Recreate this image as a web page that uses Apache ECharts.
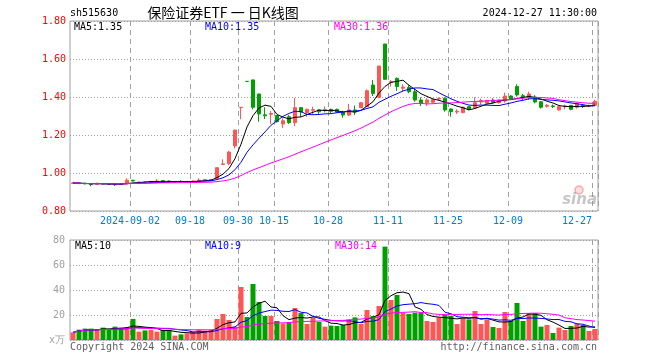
<!DOCTYPE html>
<html><head><meta charset="utf-8">
<script src="https://cdn.jsdelivr.net/npm/echarts@6/dist/echarts.min.js"></script>
<style>html,body{margin:0;padding:0;background:#fff}#c{width:660px;height:360px}</style>
</head><body><div id="c"></div>
<script>
const dates = [
'2024-08-19','2024-08-20','2024-08-21','2024-08-22','2024-08-23','2024-08-26','2024-08-27','2024-08-28','2024-08-29','2024-08-30',
'2024-09-02','2024-09-03','2024-09-04','2024-09-05','2024-09-06','2024-09-09','2024-09-10','2024-09-11','2024-09-12','2024-09-13',
'2024-09-18','2024-09-19','2024-09-20','2024-09-23','2024-09-24','2024-09-25','2024-09-26','2024-09-27','2024-09-30',
'2024-10-08','2024-10-09','2024-10-10','2024-10-11','2024-10-14','2024-10-15','2024-10-16','2024-10-17','2024-10-18',
'2024-10-21','2024-10-22','2024-10-23','2024-10-24','2024-10-25','2024-10-28','2024-10-29','2024-10-30','2024-10-31',
'2024-11-01','2024-11-04','2024-11-05','2024-11-06','2024-11-07','2024-11-08','2024-11-11','2024-11-12','2024-11-13',
'2024-11-14','2024-11-15','2024-11-18','2024-11-19','2024-11-20','2024-11-21','2024-11-22','2024-11-25','2024-11-26',
'2024-11-27','2024-11-28','2024-11-29','2024-12-02','2024-12-03','2024-12-04','2024-12-05','2024-12-06','2024-12-09',
'2024-12-10','2024-12-11','2024-12-12','2024-12-13','2024-12-16','2024-12-17','2024-12-18','2024-12-19','2024-12-20',
'2024-12-23','2024-12-24','2024-12-25','2024-12-26','2024-12-27'];

const open = [0.945,0.948,0.946,0.944,0.940,0.945,0.943,0.942,0.942,0.942,
0.962,0.948,0.952,0.950,0.953,0.960,0.958,0.952,0.956,0.953,
0.955,0.958,0.964,0.963,0.972,1.045,1.049,1.142,1.344,
1.482,1.490,1.416,1.306,1.309,1.302,1.258,1.296,1.265,
1.344,1.318,1.330,1.332,1.328,1.335,1.335,1.318,1.305,
1.332,1.344,1.349,1.463,1.398,1.679,1.476,1.498,1.446,
1.450,1.428,1.384,1.370,1.372,1.389,1.393,1.337,1.321,
1.318,1.349,1.344,1.374,1.367,1.384,1.370,1.379,1.405,
1.455,1.407,1.396,1.400,1.375,1.351,1.353,1.332,1.349,
1.356,1.346,1.355,1.353,1.356];
const close = [0.948,0.944,0.943,0.940,0.946,0.942,0.940,0.938,0.940,0.962,
0.958,0.952,0.950,0.955,0.958,0.955,0.954,0.955,0.954,0.956,
0.958,0.962,0.966,0.966,1.028,1.048,1.110,1.226,1.346,
1.482,1.346,1.311,1.301,1.313,1.270,1.275,1.265,1.344,
1.321,1.335,1.333,1.322,1.334,1.325,1.321,1.305,1.332,
1.321,1.370,1.433,1.419,1.563,1.493,1.480,1.455,1.452,
1.428,1.384,1.367,1.384,1.386,1.392,1.332,1.323,1.325,
1.346,1.335,1.370,1.381,1.381,1.372,1.384,1.405,1.388,
1.411,1.398,1.416,1.374,1.346,1.356,1.350,1.349,1.353,
1.335,1.367,1.350,1.356,1.377];
const high = [0.950,0.950,0.948,0.946,0.948,0.947,0.945,0.944,0.944,0.972,
0.964,0.955,0.954,0.957,0.968,0.962,0.960,0.957,0.962,0.958,
0.960,0.972,0.968,0.968,1.030,1.072,1.117,1.226,1.346,
1.482,1.490,1.416,1.346,1.326,1.305,1.288,1.305,1.395,
1.348,1.339,1.349,1.335,1.350,1.339,1.339,1.328,1.364,
1.355,1.372,1.440,1.489,1.563,1.679,1.489,1.503,1.467,
1.462,1.446,1.398,1.393,1.389,1.398,1.398,1.339,1.335,
1.349,1.352,1.398,1.391,1.386,1.393,1.386,1.423,1.410,
1.467,1.416,1.428,1.410,1.379,1.363,1.360,1.353,1.360,
1.358,1.370,1.362,1.360,1.386];
const low = [0.943,0.942,0.940,0.930,0.938,0.940,0.938,0.932,0.937,0.941,
0.955,0.945,0.947,0.948,0.951,0.953,0.952,0.950,0.948,0.951,
0.953,0.956,0.962,0.961,0.968,1.043,1.042,1.129,1.283,
1.482,1.335,1.270,1.284,1.258,1.265,1.237,1.258,1.247,
1.296,1.296,1.311,1.311,1.318,1.316,1.318,1.291,1.300,
1.305,1.341,1.349,1.405,1.398,1.493,1.455,1.432,1.428,
1.420,1.375,1.353,1.353,1.367,1.384,1.323,1.296,1.311,
1.314,1.330,1.339,1.360,1.363,1.367,1.365,1.370,1.384,
1.402,1.384,1.384,1.367,1.339,1.344,1.342,1.328,1.335,
1.330,1.339,1.342,1.346,1.353];
const volume = [6.1,8.3,9.1,9.1,8.0,9.9,8.3,10.7,9.9,10.4,
16.8,6.7,7.7,8.0,6.7,8.0,8.0,3.5,4.5,5.3,
6.4,8.3,7.5,8.0,16.8,20.8,16.0,10.7,42.4,
18.4,44.8,30.4,19.2,19.2,15.2,13.3,14.4,25.6,
21.6,12.8,17.9,14.4,10.7,11.5,11.2,12.0,16.5,
18.1,12.8,24.0,19.2,27.2,74.7,32.0,36.0,21.9,
20.8,21.9,21.9,15.2,14.4,18.1,20.0,19.2,12.8,
18.1,16.5,23.2,12.8,16.5,10.4,9.6,22.4,15.2,
29.6,15.2,21.6,21.6,10.7,12.0,5.6,9.9,8.0,
11.2,13.3,12.0,7.2,8.8];

const labelDates = ['2024-09-02','2024-09-18','2024-09-30','2024-10-15','2024-10-28','2024-11-11','2024-11-25','2024-12-09','2024-12-27'];
const labelTexts = ['2024-09-02','09-18','09-30','10-15','10-28','11-11','11-25','12-09','12-27'];
const priceTicks = {min:0.8, max:1.8, step:0.2};
const volTicks = {min:0, max:80, step:20};
const legendMain = ['MA5:1.35','MA10:1.35','MA30:1.36'];
const legendVol = ['MA5:10','MA10:9','MA30:14'];

const UP = '#ff5555', DOWN = '#00a000';
const MONO = '"DejaVu Sans Mono", monospace';
const GRIDC = '#a0a0a0';

function ma(arr, n) {
  return arr.map((_, i) => {
    const s = Math.max(0, i - n + 1); let t = 0;
    for (let k = s; k <= i; k++) t += arr[k];
    return +(t / (i - s + 1)).toFixed(4);
  });
}
const isUp = i => close[i] > open[i];
const kData = dates.map((d, i) => {
  const c = isUp(i) ? UP : DOWN;
  return {value: [open[i], close[i], low[i], high[i]], itemStyle: {color: c, color0: c, borderColor: c, borderColor0: c}};
});
const labelIdx = labelDates.map(d => dates.indexOf(d));
const showAt = (i) => labelIdx.indexOf(i) >= 0;

const chart = echarts.init(document.getElementById('c'), null, {renderer: 'canvas'});
const lineS = (name, data, color, xi) => ({
  name, type: 'line', data, xAxisIndex: xi, yAxisIndex: xi, showSymbol: false, symbol: 'none',
  lineStyle: {color, width: 1}, silent: true, z: 4, animation: false
});
const xCommon = (gi, showLabels) => ({
  type: 'category', gridIndex: gi, data: dates, boundaryGap: true,
  axisLine: {show: false}, axisTick: {show: false},
  axisLabel: showLabels ? {
    interval: (i) => showAt(i), margin: 5, fontFamily: MONO, fontSize: 10, color: '#0080cc',
    formatter: (v, i) => {
      const k = labelDates.indexOf(v);
      const t = labelTexts[k];
      return (v === labelDates[labelDates.length - 1]) ? '{b|' + t + '}' : '{a|' + t + '}';
    },
    rich: {
      a: {fontFamily: MONO, fontSize: 10, color: '#0080cc', padding: [0, 6, 0, 0]},
      b: {fontFamily: MONO, fontSize: 10, color: '#0080cc', padding: [0, 36, 0, 0]}
    }
  } : {show: false},
  splitLine: {show: true, interval: (i) => showAt(i), lineStyle: {color: GRIDC, width: 1, type: [5, 4]}}
});
const txt = (text, x, y, fill, align, font) => ({
  type: 'text', x, y, silent: true, z: 10,
  style: {text, fill, font: font || ('10px ' + MONO), align: align || 'left', verticalAlign: 'middle',
          textAlign: align || 'left', textVerticalAlign: 'middle'}
});

chart.setOption({
  animation: false,
  backgroundColor: '#fff',
  grid: [
    {left: 70, top: 21, width: 528, height: 190, show: true, borderColor: GRIDC, borderWidth: 1, backgroundColor: 'transparent'},
    {left: 70, top: 240, width: 528, height: 100, show: true, borderColor: GRIDC, borderWidth: 1, backgroundColor: 'transparent'}
  ],
  xAxis: [xCommon(0, true), xCommon(1, false)],
  yAxis: [
    {type: 'value', gridIndex: 0, min: priceTicks.min, max: priceTicks.max, interval: priceTicks.step,
     axisLine: {show: false}, axisTick: {show: false},
     axisLabel: {color: '#ff0000', fontFamily: MONO, fontSize: 10, margin: 4, formatter: v => v.toFixed(2)},
     splitLine: {lineStyle: {color: GRIDC, width: 1, type: [1, 2]}}},
    {type: 'value', gridIndex: 1, min: volTicks.min, max: volTicks.max, interval: volTicks.step,
     axisLine: {show: false}, axisTick: {show: false},
     axisLabel: {color: '#a0a0a0', fontFamily: MONO, fontSize: 10, margin: 5, formatter: v => v === 0 ? 'x万' : String(v)},
     splitLine: {lineStyle: {color: GRIDC, width: 1, type: [1, 2]}}}
  ],
  series: [
    {type: 'candlestick', xAxisIndex: 0, yAxisIndex: 0, data: kData, barWidth: 4, z: 3,
     itemStyle: {borderWidth: 1}},
    lineS('MA5', ma(close, 5), '#000000', 0),
    lineS('MA10', ma(close, 10), '#0000ff', 0),
    lineS('MA30', ma(close, 30), '#ff00ff', 0),
    {type: 'bar', xAxisIndex: 1, yAxisIndex: 1, data: volume, barWidth: 5, z: 3,
     itemStyle: {color: p => isUp(p.dataIndex) ? UP : DOWN}},
    lineS('VMA5', ma(volume, 5), '#000000', 1),
    lineS('VMA10', ma(volume, 10), '#0000ff', 1),
    lineS('VMA30', ma(volume, 30), '#ff00ff', 1)
  ],
  graphic: [
    txt('sh515630', 70, 13, '#000'),
    txt('保险证券ETF 一 日K线图', 223, 13, '#000', 'center', '14px "Noto Sans CJK SC"'),
    txt('2024-12-27 11:30:00', 597, 13, '#000', 'right'),
    txt(legendMain[0], 74, 27, '#000'),
    txt(legendMain[1], 205, 27, '#0000ff'),
    txt(legendMain[2], 334, 27, '#ff00ff'),
    txt(legendVol[0], 75, 246, '#000'),
    txt(legendVol[1], 205, 246, '#0000ff'),
    txt(legendVol[2], 335, 246, '#ff00ff'),
    txt('Copyright 2024 SINA.COM', 70, 347, '#606060'),
    txt('http://finance.sina.com.cn', 597, 347, '#606060', 'right'),
    {type: 'circle', shape: {cx: 579, cy: 190, r: 4}, silent: true, z: 1,
     style: {fill: 'rgba(255,120,120,0.25)', stroke: 'rgba(240,90,90,0.45)', lineWidth: 1.5}},
    txt('sina', 597, 200, 'rgba(130,130,130,0.45)', 'right', 'italic bold 15px "DejaVu Sans"')
  ]
});
</script></body></html>
